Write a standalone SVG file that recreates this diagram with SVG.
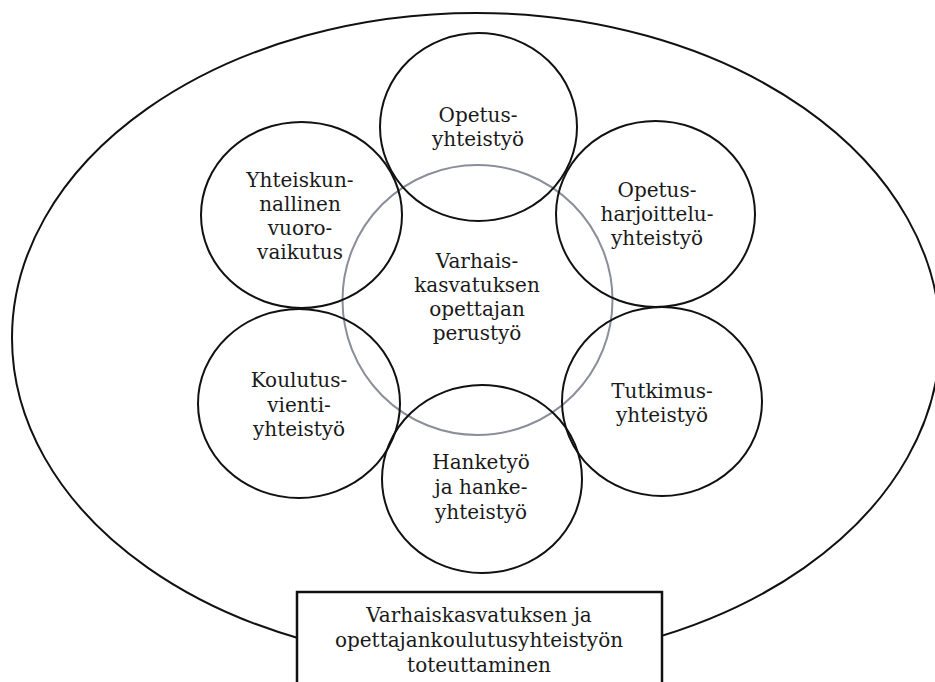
<svg xmlns="http://www.w3.org/2000/svg" width="935" height="682" viewBox="0 0 935 682">
<style>
.c{fill:none;stroke:#111;stroke-width:2}
.g{fill:none;stroke:#8a8e98;stroke-width:2}
.t{font-family:"DejaVu Serif","Liberation Serif",serif;font-size:20px;fill:#1a1a1a;text-anchor:middle}
</style>
<rect width="935" height="682" fill="#fff"/>
<g id="outer"><ellipse class="c" cx="476" cy="338" rx="464" ry="325"/></g>
<g id="center"><circle class="g" cx="477.5" cy="300" r="135"/>
<text class="t"><tspan x="477" y="268">Varhais-</tspan><tspan x="477" y="292">kasvatuksen</tspan><tspan x="477" y="316">opettajan</tspan><tspan x="477" y="340">perustyö</tspan></text></g>
<g id="opetus"><ellipse class="c" cx="478.5" cy="127" rx="98.5" ry="94"/>
<text class="t"><tspan x="478" y="122">Opetus-</tspan><tspan x="478" y="146">yhteistyö</tspan></text></g>
<g id="harjoittelu"><ellipse class="c" cx="655.5" cy="214" rx="99.5" ry="93"/>
<text class="t"><tspan x="657" y="197">Opetus-</tspan><tspan x="657" y="221">harjoittelu-</tspan><tspan x="657" y="245">yhteistyö</tspan></text></g>
<g id="tutkimus"><ellipse class="c" cx="662" cy="401.5" rx="100" ry="94.5"/>
<text class="t"><tspan x="662" y="398">Tutkimus-</tspan><tspan x="662" y="422">yhteistyö</tspan></text></g>
<g id="hanke"><ellipse class="c" cx="482" cy="479" rx="100" ry="94"/>
<text class="t"><tspan x="481" y="469">Hanketyö</tspan><tspan x="481" y="494">ja hanke-</tspan><tspan x="481" y="519">yhteistyö</tspan></text></g>
<g id="koulutus"><ellipse class="c" cx="299" cy="403.5" rx="101" ry="94.5"/>
<text class="t"><tspan x="299" y="387">Koulutus-</tspan><tspan x="299" y="412">vienti-</tspan><tspan x="299" y="436">yhteistyö</tspan></text></g>
<g id="yhteiskunnallinen"><ellipse class="c" cx="301.5" cy="215" rx="100.5" ry="93"/>
<text class="t"><tspan x="300" y="187">Yhteiskun-</tspan><tspan x="300" y="211">nallinen</tspan><tspan x="300" y="235">vuoro-</tspan><tspan x="300" y="259">vaikutus</tspan></text></g>
<g id="box"><rect x="297" y="592" width="365" height="100" fill="#fff" stroke="#111" stroke-width="2.5"/>
<text class="t"><tspan x="479" y="622">Varhaiskasvatuksen ja</tspan><tspan x="479" y="647">opettajankoulutusyhteistyön</tspan><tspan x="479" y="672">toteuttaminen</tspan></text></g>
</svg>
